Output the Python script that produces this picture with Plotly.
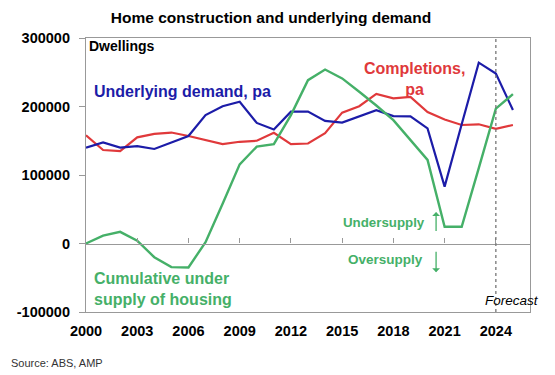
import plotly.graph_objects as go

years = list(range(2000, 2026))
completions = [158000, 136500, 135000, 155000, 160000, 162000, 157000, 151000, 145000, 148500,
               150000, 161500, 145000, 146000, 161000, 191000, 200500, 218500, 212000, 214000,
               192000, 181000, 173000, 174000, 167500, 173000]
underlying = [140000, 147500, 140000, 142000, 138000, 147500, 157000, 187500, 200500, 207000,
              176000, 166500, 192500, 192500, 179000, 176500, 185000, 194500, 186000, 185500,
              168000, 83000, 174000, 264000, 248000, 195000]
cumulative = [0, 11500, 17000, 4000, -20000, -34500, -35000, 2000, 58000, 115500,
              141500, 145000, 187500, 238500, 254000, 241000, 221500, 201500, 180000, 151000,
              122000, 24500, 24500, 110000, 197000, 218000]
xticks = [2000, 2003, 2006, 2009, 2012, 2015, 2018, 2021, 2024]
yticks = [-100000, 0, 100000, 200000, 300000]
forecast_year = 2024

RED = "#E0393B"
BLUE = "#1C1CA8"
GREEN = "#45B068"
FONT = "Arial, Liberation Sans, sans-serif"

fig = go.Figure()
fig.add_trace(go.Scatter(x=years, y=completions, mode="lines", line=dict(color=RED, width=2.2), name="Completions"))
fig.add_trace(go.Scatter(x=years, y=underlying, mode="lines", line=dict(color=BLUE, width=2.2), name="Underlying"))
fig.add_trace(go.Scatter(x=years, y=cumulative, mode="lines", line=dict(color=GREEN, width=2.4), name="Cumulative"))
# invisible trace on zero-line axis
fig.add_trace(go.Scatter(x=[2000, 2026], y=[0, 0], xaxis="x2", mode="lines",
                         line=dict(color="rgba(0,0,0,0)"), hoverinfo="skip", showlegend=False))

L, R, T, B = 86, 530, 38, 312
fig.update_layout(
    width=555, height=375,
    margin=dict(l=L, r=555 - R, t=T, b=375 - B, autoexpand=False),
    paper_bgcolor="white", plot_bgcolor="white",
    showlegend=False,
    font=dict(family=FONT, color="black"),
    title=dict(text="<b>Home construction and underlying demand</b>", x=271 / 555, xanchor="center",
               y=1 - 18 / 375, yanchor="middle", font=dict(size=15.5, color="black", family=FONT)),
    xaxis=dict(range=[2000, 2026], tickvals=xticks, ticktext=[f"<b>{v}</b>" for v in xticks],
               showgrid=False, zeroline=False, showline=True, linecolor="#999999", linewidth=1.2,
               mirror=True, ticks="", tickfont=dict(size=14.5, color="black"), ticklabelstandoff=5),
    xaxis2=dict(range=[2000, 2026], overlaying="x", anchor="free", position=0.25,
                tickvals=xticks, showticklabels=False, showgrid=False, zeroline=False,
                showline=True, linecolor="#999999", linewidth=1.2, ticks="inside", ticklen=5,
                tickcolor="#999999"),
    yaxis=dict(range=[-100000, 300000], tickvals=yticks, ticktext=[f"<b>{v}</b>" for v in yticks],
               showgrid=False, zeroline=False, showline=True, linecolor="#999999", linewidth=1.2,
               mirror=True, ticks="outside", ticklen=6, tickcolor="#999999", ticklabelstandoff=6,
               tickfont=dict(size=14.5, color="black")),
)

fig.add_shape(type="line", xref="x", yref="paper", x0=forecast_year, x1=forecast_year, y0=0, y1=1,
              line=dict(color="#777777", width=1.3, dash="dot"))

def px(x): return (x - L) / (R - L)
def py(y): return (B - y) / (B - T)

def ann(text, x, y, color, size, xanchor="left", align="left"):
    fig.add_annotation(text=text, x=px(x), y=py(y), xref="paper", yref="paper", showarrow=False,
                       xanchor=xanchor, yanchor="middle", align=align,
                       font=dict(color=color, size=size, family=FONT))

ann("<b>Dwellings</b>", 87, 46, "black", 14)
ann("<b>Underlying demand, pa</b>", 92, 91, BLUE, 16)
ann("<b>Completions,<br>pa</b>", 414, 79, RED, 16, xanchor="center", align="center")
ann("<b>Cumulative under<br>supply of housing</b>", 92, 289, GREEN, 16)
ann("<b>Undersupply</b>", 341, 222, GREEN, 13.3)
ann("<b>Oversupply</b>", 346, 259, GREEN, 13.5)
ann("<i>Forecast</i>", 483, 300, "black", 13.5)
ann("Source: ABS, AMP", 9, 363, "#333333", 11)

# arrows
fig.add_annotation(x=2020.5, y=46000, ax=2020.5, ay=16000, xref="x", yref="y", axref="x", ayref="y",
                   text="", showarrow=True, arrowhead=1, arrowsize=1, arrowwidth=1.3, arrowcolor=GREEN)
fig.add_annotation(x=2020.5, y=-42000, ax=2020.5, ay=-10000, xref="x", yref="y", axref="x", ayref="y",
                   text="", showarrow=True, arrowhead=1, arrowsize=1, arrowwidth=1.3, arrowcolor=GREEN)

fig.write_html("out.html", config={"displayModeBar": False},
               post_script="document.body.style.margin='0';document.body.style.overflow='hidden';")
